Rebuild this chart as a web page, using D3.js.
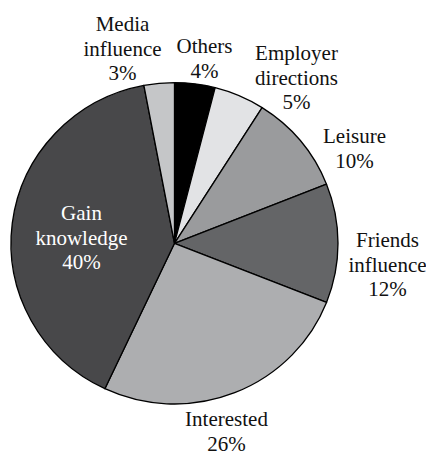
<!DOCTYPE html>
<html lang="en">
<head>
	<meta charset="utf-8">
	<title>Reasons pie</title>
	<style>
	body { margin: 0; background: #fff; }
	</style>
</head>
<body>
	<svg width="426" height="454"></svg>
	<script src="https://d3js.org/d3.v7.min.js"></script>
	<script>

	// slices clockwise from 12 o'clock
	var categories = ["Others", "Employer directions", "Leisure", "Friends influence", "Interested", "Gain knowledge", "Media influence"];
	var values = [4, 5, 10, 12, 26, 40, 3];
	var fills = ["#000000", "#e2e3e5", "#9a9b9d", "#646567", "#adaeb0", "#48484a", "#c5c6c8"];

	// label text lines and where they sit (offsets from pie centre)
	var labelLines = [
		["Others", "4%"],
		["Employer", "directions", "5%"],
		["Leisure", "10%"],
		["Friends", "influence", "12%"],
		["Interested", "26%"],
		["Gain", "knowledge", "40%"],
		["Media", "influence", "3%"]
	];
	var labelPos = [[30, -190], [122, -183], [180, -100], [213, 4], [52, 183], [-93, -23], [-52, -212]];
	var labelColor = ["#111", "#111", "#111", "#111", "#111", "#fff", "#111"];

	var svg = d3.select("svg"),
		cx = 174.5,
		cy = 243.3,
		ry = 160.7,
		rx = 163.5;

	var pie = d3.pie().sort(null).value(function(d) { return d; });
	var arc = d3.arc().innerRadius(0).outerRadius(ry);

	var g = svg.append("g")
		.attr("transform", "translate(" + cx + "," + cy + ") scale(" + (rx / ry) + ",1)");

	g.selectAll("path")
		.data(pie(values))
		.enter().append("path")
			.attr("d", arc)
			.attr("fill", function(d, i) { return fills[i]; })
			.attr("stroke", "#000")
			.attr("stroke-width", 1.3)
			.attr("stroke-linejoin", "round");

	var lineH = 24.5;
	var labels = svg.append("g").attr("transform", "translate(" + cx + "," + cy + ")");

	// one text element per line
	labelLines.forEach(function(lines, i) {
		lines.forEach(function(s, j) {
			labels.append("text")
				.attr("text-anchor", "middle")
				.attr("font-family", "'Liberation Serif'")
				.attr("font-size", 21)
				.attr("fill", labelColor[i])
				.attr("x", labelPos[i][0])
				.attr("y", labelPos[i][1] + j * lineH)
				.text(s);
		});
	});
	</script>
</body>
</html>
